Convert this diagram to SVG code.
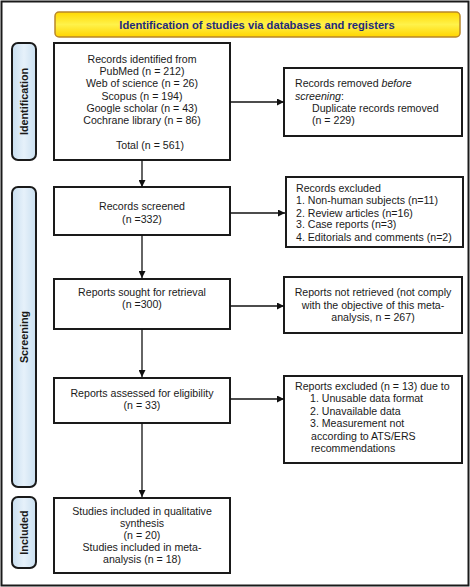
<svg xmlns="http://www.w3.org/2000/svg" width="470" height="587" viewBox="0 0 470 587">
<defs>
<linearGradient id="yel" x1="0" y1="0" x2="0" y2="1">
<stop offset="0" stop-color="#ffd800"/>
<stop offset="0.5" stop-color="#fff24a"/>
<stop offset="1" stop-color="#ffd400"/>
</linearGradient>
<linearGradient id="blu" x1="0" y1="0" x2="1" y2="0">
<stop offset="0" stop-color="#c9dff0"/>
<stop offset="0.5" stop-color="#e6f1fa"/>
<stop offset="1" stop-color="#c9dff0"/>
</linearGradient>
<marker id="ah" viewBox="0 0 10 10" refX="10" refY="5" markerWidth="7" markerHeight="7" markerUnits="userSpaceOnUse" orient="auto">
<path d="M0,0 L10,5 L0,10 z" fill="#111"/>
</marker>
</defs>
<style>
.box{fill:#fff;stroke:#1a1a1a;stroke-width:2}
.side{fill:url(#blu);stroke:#1a1a1a;stroke-width:2}
.t{font-family:"Liberation Sans",Arial,sans-serif;font-size:10.6px;fill:#1a1a1a}
.c{text-anchor:middle}
.lab{font-family:"Liberation Sans",Arial,sans-serif;font-size:10.8px;font-weight:bold;fill:#1a1a1a;text-anchor:middle}
.con{stroke:#111;stroke-width:1.3;fill:none;marker-end:url(#ah)}
</style>
<rect x="1.5" y="1.5" width="467" height="584" fill="#fff" stroke="#1a1a1a" stroke-width="2"/>

<g id="banner">
<rect x="55" y="12" width="405" height="25" rx="4" fill="url(#yel)" stroke="#b8862b" stroke-width="1.5"/>
<text x="257" y="28.5" font-family="'Liberation Sans',Arial,sans-serif" font-size="11.2" font-weight="bold" fill="#1f2a7a" text-anchor="middle">Identification of studies via databases and registers</text>
</g>

<g id="label-identification">
<rect class="side" x="12" y="43" width="24" height="117" rx="6"/>
<text class="lab" transform="translate(28,101.5) rotate(-90)">Identification</text>
</g>
<g id="label-screening">
<rect class="side" x="12" y="187" width="24" height="300" rx="6"/>
<text class="lab" transform="translate(28,337) rotate(-90)">Screening</text>
</g>
<g id="label-included">
<rect class="side" x="12" y="497" width="24" height="71" rx="6"/>
<text class="lab" transform="translate(28,532.5) rotate(-90)">Included</text>
</g>

<g id="records-identified">
<rect class="box" x="54" y="43" width="176" height="117"/>
<text class="t c" x="142" y="63">Records identified from</text>
<text class="t c" x="142" y="75">PubMed (n = 212)</text>
<text class="t c" x="142" y="87">Web of science (n = 26)</text>
<text class="t c" x="142" y="100">Scopus (n = 194)</text>
<text class="t c" x="142" y="112">Google scholar (n = 43)</text>
<text class="t c" x="142" y="124">Cochrane library  (n = 86)</text>
<text class="t c" x="150" y="149">Total (n = 561)</text>
</g>

<g id="records-removed">
<rect class="box" x="284" y="68" width="178" height="68"/>
<text class="t" x="295" y="87">Records removed <tspan font-style="italic">before</tspan></text>
<text class="t" x="295" y="100" font-style="italic">screening<tspan font-style="normal">:</tspan></text>
<text class="t" x="312" y="112">Duplicate records removed</text>
<text class="t" x="312" y="124">(n = 229)</text>
</g>

<g id="records-screened">
<rect class="box" x="54" y="187" width="176" height="48"/>
<text class="t c" x="142" y="210">Records screened</text>
<text class="t c" x="142" y="223">(n =332)</text>
</g>

<g id="records-excluded">
<rect class="box" x="286" y="177" width="177" height="70"/>
<text class="t" x="296" y="192">Records excluded</text>
<text class="t" x="296" y="204">1. Non-human subjects (n=11)</text>
<text class="t" x="296" y="217">2. Review articles (n=16)</text>
<text class="t" x="296" y="228">3. Case reports (n=3)</text>
<text class="t" x="296" y="241">4. Editorials and comments (n=2)</text>
</g>

<g id="reports-sought">
<rect class="box" x="54" y="279" width="176" height="50"/>
<text class="t c" x="142" y="296">Reports sought for retrieval</text>
<text class="t c" x="142" y="308">(n =300)</text>
</g>

<g id="reports-not-retrieved">
<rect class="box" x="284" y="277" width="178" height="56"/>
<text class="t c" x="373" y="296">Reports not retrieved (not comply</text>
<text class="t c" x="373" y="309">with the objective of this meta-</text>
<text class="t c" x="373" y="321">analysis, n = 267)</text>
</g>

<g id="reports-assessed">
<rect class="box" x="54" y="378" width="176" height="45"/>
<text class="t c" x="142" y="397">Reports assessed for eligibility</text>
<text class="t c" x="142" y="409">(n = 33)</text>
</g>

<g id="reports-excluded">
<rect class="box" x="284" y="376" width="178" height="87"/>
<text class="t" x="295" y="390">Reports excluded (n = 13) due to</text>
<text class="t" x="310" y="402">1. Unusable data format</text>
<text class="t" x="310" y="415">2. Unavailable data</text>
<text class="t" x="310" y="427">3. Measurement not</text>
<text class="t" x="311" y="440">according to ATS/ERS</text>
<text class="t" x="311" y="452">recommendations</text>
</g>

<g id="studies-included">
<rect class="box" x="54" y="498" width="176" height="75"/>
<text class="t c" x="142" y="515">Studies included in qualitative</text>
<text class="t c" x="142" y="527">synthesis</text>
<text class="t c" x="142" y="539">(n = 20)</text>
<text class="t c" x="142" y="551">Studies included in meta-</text>
<text class="t c" x="142" y="563">analysis (n = 18)</text>
</g>

<g id="connectors">
<line class="con" x1="230" y1="102" x2="284" y2="102"/>
<line class="con" x1="142" y1="160" x2="142" y2="187"/>
<line class="con" x1="230" y1="213" x2="285" y2="213"/>
<line class="con" x1="142" y1="235" x2="142" y2="278"/>
<line class="con" x1="230" y1="306" x2="284" y2="306"/>
<line class="con" x1="142" y1="329" x2="142" y2="377"/>
<line class="con" x1="230" y1="399" x2="284" y2="399"/>
<line class="con" x1="142" y1="423" x2="142" y2="497"/>
</g>
</svg>
